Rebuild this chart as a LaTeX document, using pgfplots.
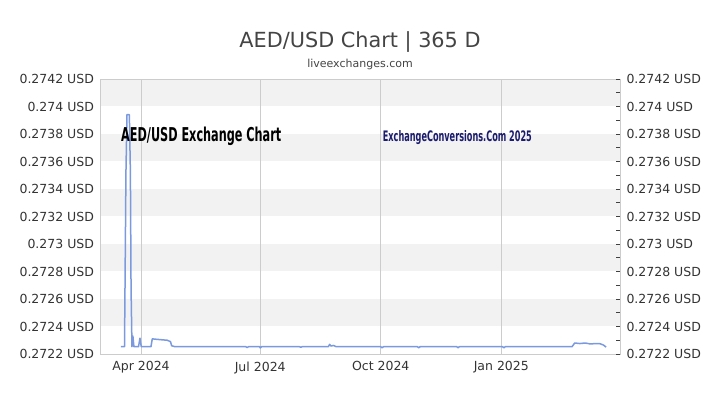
\documentclass[border=0pt]{standalone}
\usepackage{fontspec}
\setmainfont{DejaVu Sans}
\newfontfamily\condfont{DejaVu Sans Condensed}
\usepackage{graphicx}
\usepackage{pgfplots}
\usepackage{pgfplotstable}
\pgfplotsset{compat=1.18}
\pgfkeys{/pgf/number format/assume math mode=true}

\definecolor{lineblue}{RGB}{122,153,222}
\definecolor{band}{RGB}{242,242,242}
\definecolor{gridc}{RGB}{204,204,204}
\definecolor{txt}{RGB}{51,51,51}
\definecolor{ttl}{RGB}{68,68,68}
\definecolor{navy}{RGB}{28,28,110}

% day 0 = 1 Apr 2024
\pgfplotstableread{
day rate
-15.3 0.272253
-12.6 0.272253
-12.2 0.272700
-11.5 0.273520
-10.7 0.273940
-8.9 0.273940
-8.1 0.273520
-7.6 0.272680
-6.9 0.272253
-6.2 0.272330
-5.4 0.272253
-1.9 0.272253
-0.8 0.272315
0.2 0.272253
7.6 0.272253
8.6 0.272310
14 0.272305
20 0.272300
22.5 0.272290
23.4 0.272260
26 0.272253
80 0.272253
81 0.272247
82 0.272253
90.5 0.272253
91 0.272244
92 0.272253
121 0.272253
122 0.272249
123 0.272253
143 0.272253
144 0.272270
145 0.272258
147 0.272262
149 0.272253
183 0.272253
184 0.272245
185 0.272253
211 0.272253
212 0.272245
213 0.272253
241 0.272253
242 0.272246
243 0.272253
276 0.272253
277 0.272245
278 0.272253
329 0.272253
331 0.272280
335 0.272276
339 0.272280
343 0.272273
347 0.272276
350 0.272276
353 0.272265
355 0.272250
}\ratetable

\begin{document}
\begin{tikzpicture}
\path (0,0) rectangle (720bp,405bp);
\node[anchor=base, font=\fontsize{20.8bp}{24bp}\selectfont, text=ttl, inner sep=0] at (360bp,357.5bp) {AED/USD Chart | 365 D};
\node[anchor=base, font=\fontsize{11bp}{13bp}\selectfont, text=ttl, inner sep=0] at (360bp,337bp) {liveexchanges.com};

\begin{axis}[
    at={(100bp,51bp)}, anchor=south west,
    scale only axis, width=520bp, height=275bp,
    xmin=-31.3, xmax=365.6,
    ymin=0.2722, ymax=0.2742,
    set layers,
    axis line style={gridc, line width=0.8bp},
    xtick={0,91,183,275},
    xticklabels={Apr 2024, Jul 2024, Oct 2024, Jan 2025},
    ytick={0.2722,0.2724,0.2726,0.2728,0.273,0.2732,0.2734,0.2736,0.2738,0.274,0.2742},
    scaled y ticks=false,
    yticklabel={\pgfmathprintnumber[fixed,precision=4]{\tick}~USD},
    tick style={draw=none},
    major tick length=0pt,
    xmajorgrids,
    grid style={gridc, line width=0.8bp},
    ticklabel style={font=\fontsize{12.5bp}{15bp}\selectfont, text=txt},
    yticklabel style={xshift=-2.5bp},
    xticklabel style={yshift=-4bp},
]
\addplot[fill=band, draw=none, on layer=axis background] coordinates {(-31.3,0.2740) (365.6,0.2740) (365.6,0.2742) (-31.3,0.2742)};
\addplot[fill=band, draw=none, on layer=axis background] coordinates {(-31.3,0.2736) (365.6,0.2736) (365.6,0.2738) (-31.3,0.2738)};
\addplot[fill=band, draw=none, on layer=axis background] coordinates {(-31.3,0.2732) (365.6,0.2732) (365.6,0.2734) (-31.3,0.2734)};
\addplot[fill=band, draw=none, on layer=axis background] coordinates {(-31.3,0.2728) (365.6,0.2728) (365.6,0.2730) (-31.3,0.2730)};
\addplot[fill=band, draw=none, on layer=axis background] coordinates {(-31.3,0.2724) (365.6,0.2724) (365.6,0.2726) (-31.3,0.2726)};
\addplot[lineblue, line width=1.5bp, line join=round] table[x=day, y=rate] {\ratetable};
\end{axis}

\begin{axis}[
    at={(100bp,51bp)}, anchor=south west,
    scale only axis, width=520bp, height=275bp,
    xmin=-31.3, xmax=365.6,
    ymin=0.2722, ymax=0.2742,
    axis x line=none,
    axis y line*=right,
    axis line style={gridc, line width=0.8bp},
    ytick={0.2722,0.2724,0.2726,0.2728,0.273,0.2732,0.2734,0.2736,0.2738,0.274,0.2742},
    minor ytick={0.2723,0.2725,0.2727,0.2729,0.2731,0.2733,0.2735,0.2737,0.2739,0.2741},
    scaled y ticks=false,
    yticklabel={\pgfmathprintnumber[fixed,precision=4]{\tick}~USD},
    tick align=inside,
    major tick length=4bp, minor tick length=4bp,
    tick style={black!75, line width=0.8bp},
    yticklabel style={font=\fontsize{12.5bp}{15bp}\selectfont, text=txt, xshift=3bp},
]
\addplot[draw=none] coordinates {(-31.3,0.2722) (365.6,0.2742)};
\end{axis}

\node[anchor=base west, inner sep=0] at (121bp,263bp)
  {\resizebox{160bp}{14.5bp}{\condfont\bfseries AED/USD Exchange Chart}};
\node[anchor=base west, inner sep=0, text=navy] at (382.7bp,263.3bp)
  {\resizebox{149bp}{11bp}{\condfont\bfseries ExchangeConversions.Com 2025}};
\end{tikzpicture}
\end{document}
